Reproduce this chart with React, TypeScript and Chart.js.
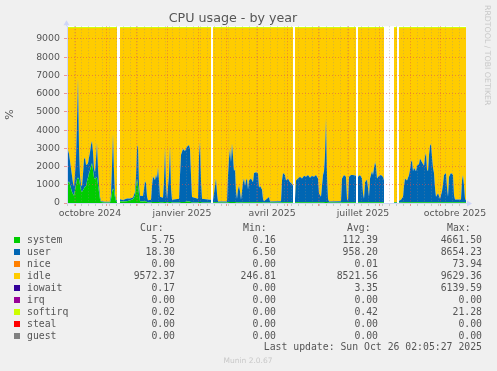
import { useEffect, useRef } from "react";
import { Chart, registerables } from "chart.js";

Chart.register(...registerables);

// day index 0 = 23 Sep 2024 (one day per pixel, 400 days)
const days = [
  0, 1, 2, 3, 4, 5, 6, 7, 8, 9, 10, 11, 12, 13, 14, 15, 16, 17, 18, 19, 20, 21, 22, 23, 24, 25, 26, 27, 28, 29, 30, 31, 32, 33, 34, 38, 43, 44, 45, 46, 47, 48, 49, 50, 51.5,
  53, 56, 60, 63, 66, 68, 69, 70, 71, 72, 73, 76, 77, 78, 79, 80, 81, 84, 85, 86, 88, 89, 90, 91, 92, 93, 96, 97, 98, 99, 100, 102, 103, 104, 105, 112, 113, 114, 116, 118, 120, 122, 123, 124, 125, 131, 132, 133, 134, 135, 143, 144, 145,
  146, 148, 149, 150, 151, 160, 161, 162, 163, 164, 165, 166, 167, 168, 169, 170, 171, 172, 173, 174, 176, 177, 178, 179, 180, 181, 182, 184, 186, 187, 189, 191, 192, 193, 195, 196, 197, 202, 203, 214, 215, 216, 218, 219, 221, 223, 225, 226, 227,
  228, 229, 231, 233, 235, 237, 239, 241, 243, 245, 247, 249, 251, 252, 254, 255, 256, 257, 258, 259, 260, 261, 262, 274, 275, 277, 279, 280, 281, 282, 284, 286, 289, 290,
  291, 293, 295, 296, 297, 298, 300, 301, 302, 303, 305, 306, 307, 308, 309, 310, 312, 314, 316, 317, 318, 327, 330, 331,
  332, 334, 336, 337, 338, 340, 342, 343, 344, 345, 346, 347, 349, 350, 352, 353, 355, 357, 358, 359, 360, 361, 362, 363, 364, 365, 366, 367, 368, 369, 371, 373, 375, 376, 377, 379, 380, 381, 382, 384, 386, 387, 388, 394, 395, 396, 397, 398, 399,
];

const system = [
  900, 1100, 1200, 1000, 800, 600, 500, 400, 700, 1000, 1300, 1400, 1300, 1000, 700, 600, 700, 800, 900, 900, 1200, 1400, 1600, 1800, 2000, 2200, 1800, 1400, 1300, 1400, 1400, 1000, 600, 200, 50, 30, 30, 200, 600, 800, 700, 300, 100, 60, null,
  100, 80, 100, 150, 200, 400, 900, 1300, 1000, 500, 100, 80, 100, 100, 80, 50, 30, 30, 50, 60, 60, 60, 60, 60, 60, 40, 40, 50, 60, 50, 30, 50, 60, 50, 30, 30, 40, 50, 60, 60, 80, 80, 70, 50, 30, 30, 50, 60, 50, 30, 30, 30, null,
  40, 40, 40, 40, 30, 30, 40, 50, 60, 50, 60, 50, 50, 50, 40, 30, 40, 40, 40, 30, 40, 40, 40, 40, 40, 40, 40, 40, 40, 40, 40, 40, 40, 40, 40, 30, 30, 30, 30, 30, 40, 40, 40, 40, 40, 40, 40, 40, null,
  40, 40, 40, 40, 40, 40, 40, 40, 40, 40, 40, 40, 40, 40, 40, 40, 40, 40, 50, 60, 50, 40, 30, 30, 40, 40, 40, 40, 40, 40, 40, 40, 40, null,
  40, 40, 40, 40, 40, 40, 40, 40, 40, 40, 40, 40, 40, 40, 40, 40, 40, 40, 40, 40, null, 30, 30, null,
  30, 30, 40, 40, 40, 40, 40, 40, 40, 40, 40, 40, 40, 40, 40, 40, 40, 40, 40, 40, 40, 40, 40, 40, 40, 40, 40, 40, 40, 40, 40, 40, 40, 40, 40, 40, 40, 40, 40, 40, 40, 40, 40, 40, 40, 40, 40, 40, 40,
];

const user = [
  1700, 1800, 1500, 1300, 1100, 900, 600, 500, 900, 1500, 3200, 5500, 1700, 500, 300, 300, 900, 1600, 1600, 1200, 900, 800, 900, 1000, 1200, 1200, 1000, 500, 400, 1000, 1900, 900, 400, 150, 50, 40, 40, 300, 1400, 3000, 1000, 200, 100, 60, null,
  100, 80, 150, 100, 100, 200, 600, 1700, 2200, 500, 300, 300, 700, 1100, 1000, 300, 120, 150, 900, 1400, 1200, 1500, 1300, 1900, 1200, 300, 250, 1200, 3000, 1000, 200, 1500, 3100, 800, 150, 200, 1500, 2600, 2900, 2800, 3000, 3100, 2900, 1500, 300, 200, 2500, 3300, 1200, 200, 150, 150, null,
  100, 900, 1300, 500, 50, 50, 1500, 2400, 2900, 2200, 3200, 2500, 1700, 1800, 600, 200, 700, 900, 600, 150, 1100, 1300, 900, 1200, 1300, 700, 1200, 1300, 1100, 1600, 1650, 1600, 800, 900, 700, 200, 60, 300, 50, 60, 1200, 1600, 1500, 1200, 1300, 1100, 1000, 900, null,
  200, 1200, 1300, 1400, 1300, 1450, 1400, 1500, 1350, 1450, 1400, 1500, 1300, 500, 300, 900, 1500, 1700, 2600, 4600, 1500, 200, 50, 60, 1300, 1500, 1400, 200, 100, 1400, 1500, 1500, 1450, null,
  1400, 1500, 1300, 500, 200, 1100, 1250, 800, 300, 1300, 1700, 1500, 1900, 2200, 2000, 1300, 1450, 1500, 1400, 1200, null, 30, 30, null,
  100, 150, 300, 900, 1300, 1200, 1500, 1800, 2200, 2300, 1700, 1900, 1700, 2000, 2100, 2400, 2200, 2000, 2500, 2700, 1800, 1700, 2600, 3100, 3200, 2500, 1900, 1600, 800, 300, 500, 200, 600, 1000, 1500, 1600, 800, 300, 1400, 1600, 1500, 400, 150, 150, 1200, 1500, 900, 200, 100,
];

const idle = [
  7025, 6725, 6925, 7325, 7725, 8125, 8525, 8725, 8025, 7125, 5125, 2725, 6625, 8125, 8625, 8725, 8025, 7225, 7125, 7525, 7525, 7425, 7125, 6825, 6425, 6225, 6825, 7725, 7925, 7225, 6325, 7725, 8625, 9275, 9525, 9555, 9555, 9125, 7625, 5825, 7925, 9125, 9425, 9505, null,
  9425, 9465, 9375, 9375, 9325, 9025, 8125, 6625, 6425, 8625, 9225, 9245, 8825, 8425, 8545, 9275, 9475, 9445, 8675, 8165, 8365, 8065, 8265, 7665, 8365, 9285, 9335, 8375, 6565, 8575, 9395, 8075, 6465, 8775, 9445, 9395, 8085, 6975, 6665, 6765, 6545, 6445, 6655, 8075, 9295, 9395, 7075, 6265, 8375, 9395, 9445, 9445, null,
  9485, 8685, 8285, 9085, 9545, 9545, 8085, 7175, 6665, 7375, 6365, 7075, 7875, 7775, 8985, 9395, 8885, 8685, 8985, 9445, 8485, 8285, 8685, 8385, 8285, 8885, 8385, 8285, 8485, 7985, 7935, 7985, 8785, 8685, 8885, 9395, 9535, 9295, 9545, 9535, 8385, 7985, 8085, 8385, 8285, 8485, 8585, 8685, null,
  9385, 8385, 8285, 8185, 8285, 8135, 8185, 8085, 8235, 8135, 8185, 8085, 8285, 9085, 9285, 8685, 8085, 7885, 6975, 4965, 8075, 9385, 9545, 9535, 8285, 8085, 8185, 9385, 9485, 8185, 8085, 8085, 8135, null,
  8185, 8085, 8285, 9085, 9385, 8485, 8335, 8785, 9285, 8285, 7885, 8085, 7685, 7385, 7585, 8285, 8135, 8085, 8185, 8385, null, 9565, 9565, null,
  9495, 9445, 9285, 8685, 8285, 8385, 8085, 7785, 7385, 7285, 7885, 7685, 7885, 7585, 7485, 7185, 7385, 7585, 7085, 6885, 7785, 7885, 6985, 6485, 6385, 7085, 7685, 7985, 8785, 9285, 9085, 9385, 8985, 8585, 8085, 7985, 8785, 9285, 8185, 7985, 8085, 9185, 9435, 9435, 8385, 8085, 8685, 9385, 9485,
];

// x-axis grid / labels (day index)
const monthStarts = [8, 39, 69, 100, 131, 159, 190, 220, 251, 281, 312, 343, 373];
const weekDays = [0, 7, 14, 21, 28, 35, 42, 49, 56, 63, 70, 77, 84, 91, 98, 105, 112, 119, 126, 133, 140, 147, 154, 161, 168, 175, 182, 189, 196, 203, 210, 217, 224, 231, 238, 245, 252, 259, 266, 273, 280, 287, 294, 301, 308, 315, 322, 329, 336, 343, 350, 357, 364, 371, 378, 385, 392];
const labelDays = [23, 115, 205, 296, 388];
const labelTexts = ["octobre 2024", "janvier 2025", "avril 2025", "juillet 2025", "octobre 2025"];

const yMajor = [0, 1000, 2000, 3000, 4000, 5000, 6000, 7000, 8000, 9000];
const yMinor = [500, 1500, 2500, 3500, 4500, 5500, 6500, 7500, 8500, 9500];

// legend table
const legendNames = ["system", "user", "nice", "idle", "iowait", "irq", "softirq", "steal", "guest"];
const legendColors = ["#00CC00", "#0066B3", "#FF8000", "#FFCC00", "#330099", "#990099", "#CCFF00", "#FF0000", "#808080"];
const curValues = ["5.75", "18.30", "0.00", "9572.37", "0.17", "0.00", "0.02", "0.00", "0.00"];
const minValues = ["0.16", "6.50", "0.00", "246.81", "0.00", "0.00", "0.00", "0.00", "0.00"];
const avgValues = ["112.39", "958.20", "0.01", "8521.56", "3.35", "0.00", "0.42", "0.00", "0.00"];
const maxValues = ["4661.50", "8654.23", "73.94", "9629.36", "6139.59", "0.00", "21.28", "0.00", "0.00"];

const MAJOR = "rgba(222,79,79,0.55)";
const MINOR = "rgba(143,143,143,0.4)";
const AXIS = "#CFD6F8";
const TEXT = "#555555";

const xTickValues = Array.from(new Set([...weekDays, ...monthStarts, ...labelDays])).sort((a, b) => a - b);

function xKind(v: number): string {
  if (labelDays.includes(v)) return "label";
  if (monthStarts.includes(v)) return "major";
  return "minor";
}

const canvasBg = {
  id: "canvasBg",
  beforeDraw(chart: any) {
    const { ctx, chartArea } = chart;
    ctx.save();
    ctx.fillStyle = "#FFFFFF";
    ctx.fillRect(chartArea.left, chartArea.top, chartArea.right - chartArea.left, chartArea.bottom - chartArea.top);
    ctx.restore();
  },
};

const axisArrows = {
  id: "axisArrows",
  afterDraw(chart: any) {
    const { ctx, chartArea } = chart;
    const { left, right, top, bottom } = chartArea;
    ctx.save();
    ctx.strokeStyle = AXIS;
    ctx.fillStyle = AXIS;
    ctx.lineWidth = 1;
    const lx = Math.round(left) - 0.5;
    const by = Math.round(bottom) + 0.5;
    ctx.beginPath();
    ctx.moveTo(lx, top);
    ctx.lineTo(lx, top - 3);
    ctx.moveTo(right, by);
    ctx.lineTo(right + 2, by);
    ctx.stroke();
    ctx.beginPath();
    ctx.moveTo(lx - 3, top - 1);
    ctx.lineTo(lx + 3, top - 1);
    ctx.lineTo(lx, top - 6);
    ctx.closePath();
    ctx.fill();
    ctx.beginPath();
    ctx.moveTo(right + 1, by - 3);
    ctx.lineTo(right + 1, by + 3);
    ctx.lineTo(right + 6, by);
    ctx.closePath();
    ctx.fill();
    ctx.restore();
  },
};

const mono = "'DejaVu Sans Mono', monospace";

export default function App() {
  const ref = useRef<HTMLCanvasElement>(null);

  useEffect(() => {
    document.body.style.margin = "0";
    const mk = (arr: (number | null)[]) => days.map((d, i) => ({ x: d, y: arr[i] }));
    const chart = new Chart(ref.current as HTMLCanvasElement, {
      type: "line",
      data: {
        datasets: [
          { label: "system", data: mk(system), backgroundColor: "#00CC00", borderColor: "rgba(0,0,0,0)", borderWidth: 0, fill: "origin" },
          { label: "user", data: mk(user), backgroundColor: "#0066B3", borderColor: "rgba(0,0,0,0)", borderWidth: 0, fill: "-1" },
          { label: "idle", data: mk(idle), backgroundColor: "#FFCC00", borderColor: "#CCFF00", borderWidth: 1, fill: "-1" },
        ] as any,
      },
      options: {
        animation: false,
        responsive: false,
        maintainAspectRatio: false,
        layout: { padding: { left: 0, right: 31, top: 0, bottom: 148 } },
        elements: { point: { radius: 0 }, line: { tension: 0 } },
        plugins: {
          legend: { display: false },
          tooltip: { enabled: false },
          title: {
            display: true,
            text: "CPU usage - by year",
            color: TEXT,
            font: { family: "'DejaVu Sans'", size: 12.7, weight: "normal" },
            padding: { top: 11, bottom: 0 },
          },
        },
        scales: {
          x: {
            type: "linear",
            min: 0,
            max: 399,
            afterBuildTicks: (s: any) => {
              s.ticks = xTickValues.map((v) => ({ value: v }));
            },
            afterFit: (s: any) => {
              s.height = 20;
            },
            ticks: {
              autoSkip: false,
              maxRotation: 0,
              minRotation: 0,
              padding: 2,
              color: TEXT,
              font: { family: "'DejaVu Sans'", size: 9.4 },
              callback: (v: any) => {
                const i = labelDays.indexOf(Number(v));
                return i >= 0 ? labelTexts[i] : "";
              },
            },
            grid: {
              z: 1,
              tickLength: 3,
              color: (c: any) => {
                const k = xKind(c.tick ? c.tick.value : -1);
                return k === "major" ? MAJOR : k === "minor" ? MINOR : "rgba(0,0,0,0)";
              },
              tickColor: (c: any) => {
                const k = xKind(c.tick ? c.tick.value : -1);
                return k === "major" ? MAJOR : k === "minor" ? MINOR : "rgba(0,0,0,0)";
              },
            },
            border: { color: AXIS, width: 1, dash: [1, 2], z: 2 },
          },
          y: {
            type: "linear",
            stacked: true,
            min: 0,
            max: 9700,
            afterBuildTicks: (s: any) => {
              s.ticks = [...yMajor, ...yMinor].sort((a, b) => a - b).map((v) => ({ value: v }));
            },
            afterFit: (s: any) => {
              s.width = 67;
            },
            title: {
              display: true,
              text: "%",
              color: TEXT,
              font: { family: "'DejaVu Sans'", size: 11 },
              padding: { top: 4, bottom: 0 },
            },
            ticks: {
              padding: 4,
              color: TEXT,
              font: { family: "'DejaVu Sans'", size: 9.4 },
              callback: (v: any) => (yMajor.includes(Number(v)) ? String(v) : ""),
            },
            grid: {
              z: 1,
              tickLength: 3,
              color: (c: any) => (c.tick && yMajor.includes(c.tick.value) ? MAJOR : MINOR),
              tickColor: (c: any) => (c.tick && yMajor.includes(c.tick.value) ? MAJOR : MINOR),
            },
            border: { color: AXIS, width: 1, dash: [1, 2], z: 2 },
          },
        },
      } as any,
      plugins: [canvasBg, axisArrows],
    });
    return () => chart.destroy();
  }, []);

  const rowTop = (i: number) => 234 + i * 12.05;

  return (
    <div style={{ position: "relative", width: 497, height: 371, background: "#F0F0F0", overflow: "hidden" }}>
      <canvas ref={ref} width={497} height={371} style={{ position: "absolute", left: 0, top: 0, width: 497, height: 371 }} />
      <div
        style={{
          position: "absolute",
          left: 481,
          top: 5,
          writingMode: "vertical-rl",
          fontFamily: "'DejaVu Sans'",
          fontSize: 7.8,
          color: "#C8C8C8",
          whiteSpace: "pre",
          lineHeight: "12px",
        }}
      >
        RRDTOOL / TOBI OETIKER
      </div>
      {["Cur:", "Min:", "Avg:", "Max:"].map((h, j) => (
        <div
          key={h}
          style={{
            position: "absolute",
            left: [140, 243, 347, 447][j],
            top: 222,
            fontFamily: mono,
            fontSize: 9.8,
            lineHeight: "12px",
            color: TEXT,
            whiteSpace: "pre",
          }}
        >
          {h}
        </div>
      ))}
      {legendNames.map((n, i) => (
        <div key={n}>
          <div
            style={{
              position: "absolute",
              left: 14,
              top: rowTop(i) + 3,
              width: 6,
              height: 6,
              background: legendColors[i],
            }}
          />
          <div
            style={{
              position: "absolute",
              left: 27,
              top: rowTop(i),
              fontFamily: mono,
              fontSize: 9.8,
              lineHeight: "12px",
              color: TEXT,
              whiteSpace: "pre",
            }}
          >
            {n}
          </div>
          {[curValues[i], minValues[i], avgValues[i], maxValues[i]].map((v, j) => (
            <div
              key={j}
              style={{
                position: "absolute",
                right: 497 - [175, 276, 378, 482][j],
                top: rowTop(i),
                fontFamily: mono,
                fontSize: 9.8,
                lineHeight: "12px",
                color: TEXT,
                whiteSpace: "pre",
                textAlign: "right",
              }}
            >
              {v}
            </div>
          ))}
        </div>
      ))}
      <div
        style={{
          position: "absolute",
          right: 497 - 482,
          top: 341.3,
          fontFamily: mono,
          fontSize: 9.8,
          lineHeight: "12px",
          color: TEXT,
          whiteSpace: "pre",
          textAlign: "right",
        }}
      >
        Last update: Sun Oct 26 02:05:27 2025
      </div>
      <div
        style={{
          position: "absolute",
          left: 0,
          width: 497,
          textAlign: "center",
          top: 355,
          fontFamily: "'DejaVu Sans'",
          fontSize: 7.5,
          lineHeight: "12px",
          color: "#C8C8C8",
          whiteSpace: "pre",
        }}
      >
        <span style={{ position: "absolute", left: 248, transform: "translateX(-50%)" }}>Munin 2.0.67</span>
      </div>
    </div>
  );
}
